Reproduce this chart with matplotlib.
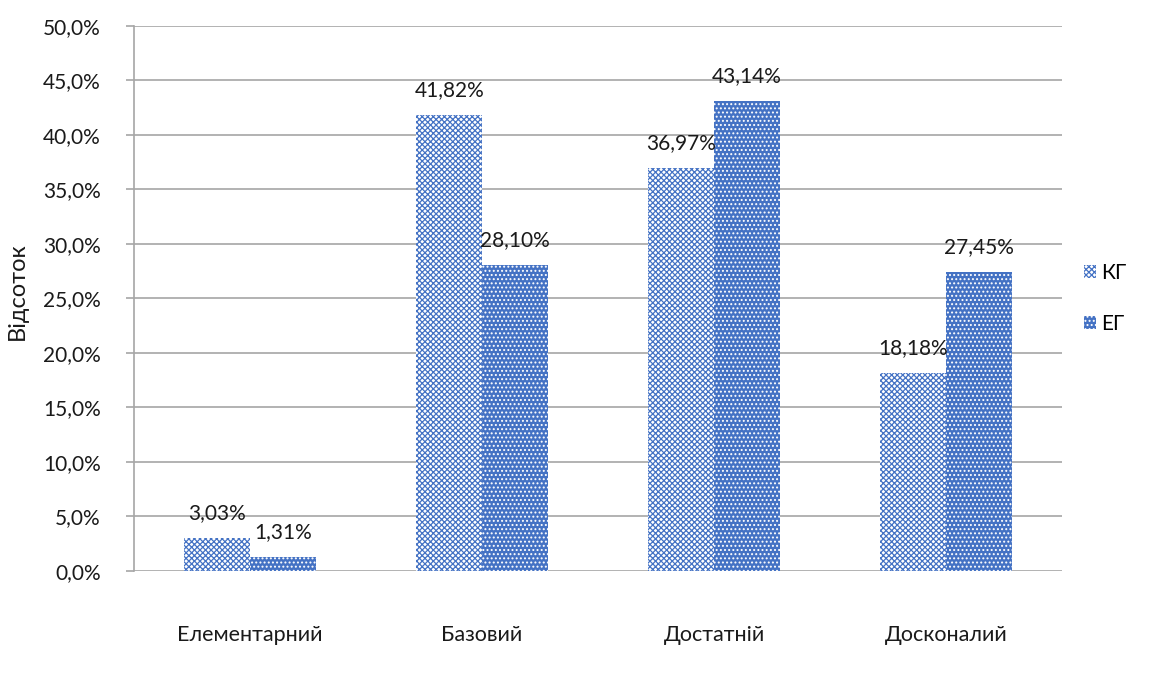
import numpy as np
import matplotlib
matplotlib.use("Agg")
import matplotlib.pyplot as plt
from matplotlib.ticker import FuncFormatter

# Рівні та відсотки для контрольної (КГ) та експериментальної (ЕГ) груп
levels = ["Елементарний", "Базовий", "Достатній", "Досконалий"]
kg_values = [3.03, 41.82, 36.97, 18.18]
eg_values = [1.31, 28.10, 43.14, 27.45]
series_names = ["КГ", "ЕГ"]

plt.rcParams["font.family"] = ["Lato", "DejaVu Sans"]
plt.rcParams["hatch.linewidth"] = 0.9

blue = "#4472C4"
grid_col = "#A6A6A6"
txt_col = "#1a1a1a"

fig = plt.figure(figsize=(11.52, 6.75), dpi=100)
ax = fig.add_axes([0.1163, 0.1541, 0.8056, 0.8074])

x = np.arange(len(levels))
w = 0.283

b1 = ax.bar(x - w / 2, kg_values, w, facecolor="white", edgecolor=blue,
            hatch="xxxxxx", linewidth=0, label=series_names[0])
b2 = ax.bar(x + w / 2, eg_values, w, facecolor=blue, edgecolor="white",
            hatch="....", linewidth=0, label=series_names[1])

def pct(v):
    return ("%.2f" % v).replace(".", ",") + "%"

for bars, vals in ((b1, kg_values), (b2, eg_values)):
    for rect, v in zip(bars, vals):
        ax.annotate(pct(v), (rect.get_x() + rect.get_width() / 2, v),
                    xytext=(0, 18), textcoords="offset points",
                    ha="center", va="center", fontsize=15, color=txt_col)

ax.set_xlim(-0.5, len(levels) - 0.5)
ax.set_ylim(0, 50)
ax.set_yticks(np.arange(0, 50.1, 5))
ax.yaxis.set_major_formatter(FuncFormatter(lambda v, p: ("%.1f" % v).replace(".", ",") + "%"))
ax.set_xticks(x)
ax.set_xticklabels(levels)

ax.grid(axis="y", color=grid_col, linewidth=1.2)
ax.set_axisbelow(True)
for s in ["top", "right", "bottom"]:
    ax.spines[s].set_visible(False)
ax.spines["left"].set_color(grid_col)
ax.spines["left"].set_linewidth(1.2)

ax.tick_params(axis="y", length=6, color=grid_col, width=1.2, labelsize=15,
               pad=18, labelcolor=txt_col)
ax.tick_params(axis="x", length=0, labelsize=15.5, pad=39, labelcolor=txt_col)

ax.set_ylabel("Відсоток", fontsize=17, color=txt_col)
ax.yaxis.set_label_coords(-0.114, 0.514)

ax.legend(loc="center left", bbox_to_anchor=(1.003, 0.50), frameon=False,
          fontsize=15, handlelength=0.6, handleheight=0.6, handletextpad=0.25,
          labelspacing=1.5)

fig.savefig("out.png", dpi=100)
